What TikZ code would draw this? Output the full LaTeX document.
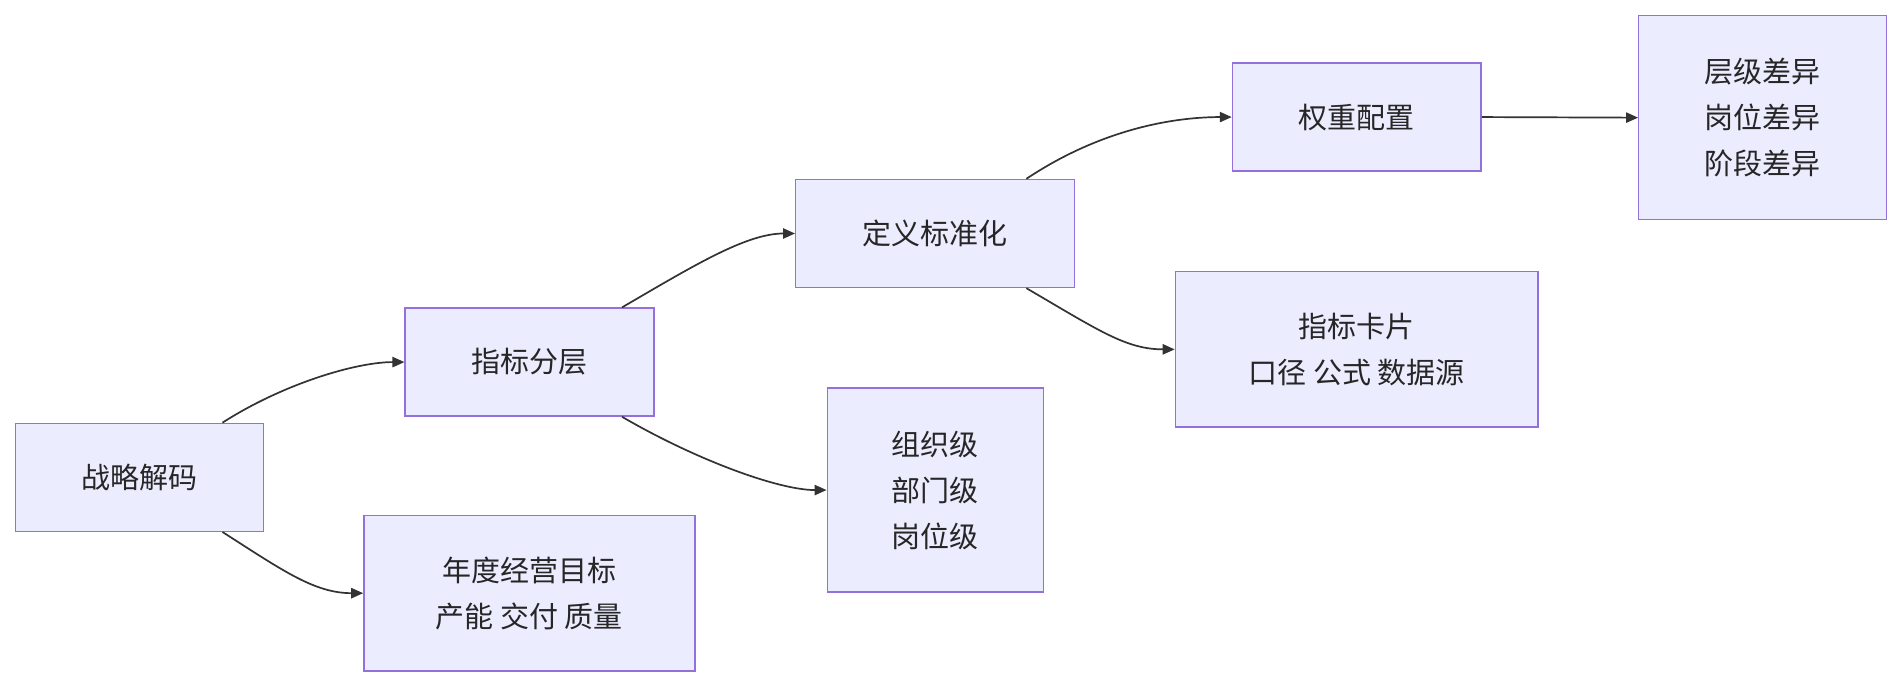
\documentclass[tikz,border=0pt]{standalone}
\usepackage{fontspec}
\setmainfont{Noto Sans CJK SC}
\usetikzlibrary{calc,arrows.meta}
\definecolor{boxfill}{HTML}{ECECFF}
\definecolor{boxline}{HTML}{9370DB}
\definecolor{edge}{HTML}{333333}
\begin{document}
\begin{tikzpicture}[x=0.025cm,y=-0.025cm,
  box/.style={draw=boxline,fill=boxfill,line width=0.8pt,align=center,inner sep=0pt,
    font=\fontsize{17}{27}\selectfont,text=black!85},
  conn/.style={draw=edge,line width=1pt,-{Triangle[length=7pt,width=6pt]}}]
\useasboundingbox (0,0) rectangle (1568,567);
\node[box,minimum width=5.1cm,minimum height=2.225cm] (a) at (115,393.5) {战略解码};
\node[box,minimum width=6.825cm,minimum height=3.2cm] (b) at (436.5,489) {年度经营目标\\产能 交付 质量};
\node[box,minimum width=5.125cm,minimum height=2.225cm] (c) at (436.5,298.5) {指标分层};
\node[box,minimum width=4.45cm,minimum height=4.2cm] (d) at (771,404) {组织级\\部门级\\岗位级};
\node[box,minimum width=5.75cm,minimum height=2.225cm] (e) at (771,192.5) {定义标准化};
\node[box,minimum width=7.475cm,minimum height=3.2cm] (f) at (1118.5,288) {指标卡片\\口径 公式 数据源};
\node[box,minimum width=5.125cm,minimum height=2.225cm] (g) at (1118.5,96.5) {权重配置};
\node[box,minimum width=5.1cm,minimum height=4.2cm] (h) at (1453,97) {层级差异\\岗位差异\\阶段差异};
\draw[conn] ($(a.north)!0.667!(a.north east)$) .. controls +(50,-32) and +(-40,0) .. (c.west);
\draw[conn] ($(a.south)!0.667!(a.south east)$) .. controls +(50,32) and +(-40,0) .. (b.west);
\draw[conn] ($(c.north)!0.74!(c.north east)$) .. controls +(60,-35) and +(-40,0) .. (e.west);
\draw[conn] ($(c.south)!0.74!(c.south east)$) .. controls +(60,35) and +(-40,0) .. (d.west);
\draw[conn] ($(e.north)!0.65!(e.north east)$) .. controls +(60,-40) and +(-50,0) .. (g.west);
\draw[conn] ($(e.south)!0.65!(e.south east)$) .. controls +(60,35) and +(-40,0) .. (f.west);
\draw[conn] (g.east) -- (h.west);
\end{tikzpicture}
\end{document}
